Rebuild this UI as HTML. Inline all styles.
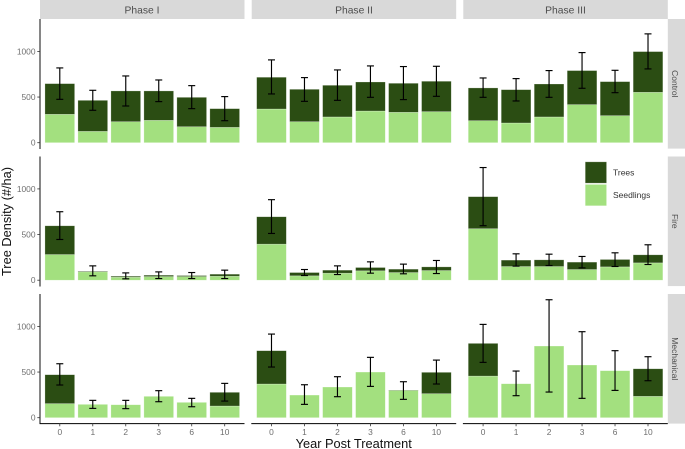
<!DOCTYPE html>
<html lang="en">
<head>
<meta charset="utf-8">
<title>Tree Density by Phase and Treatment</title>
<style>
html,body{margin:0;padding:0;background:#fff;}
body{width:685px;height:449px;overflow:hidden;}
svg{display:block;font-family:"Liberation Sans",sans-serif;}
</style>
</head>
<body>
<svg id="chart" xmlns="http://www.w3.org/2000/svg" width="685" height="449" viewBox="0 0 685 449">
  <rect x="0" y="0" width="685" height="449" fill="#fff"/>

  <g>
    <rect x="40" y="0" width="204.5" height="19" fill="#d9d9d9"/>
    <rect x="251.7" y="0" width="204.5" height="19" fill="#d9d9d9"/>
    <rect x="463.3" y="0" width="204.5" height="19" fill="#d9d9d9"/>
    <text x="142" y="13.3" text-anchor="middle" font-size="10.3" fill="#4d4d4d">Phase I</text>
    <text x="354" y="13.3" text-anchor="middle" font-size="10.3" fill="#4d4d4d">Phase II</text>
    <text x="565.5" y="13.3" text-anchor="middle" font-size="10.3" fill="#4d4d4d">Phase III</text>
  </g>

  <g>
    <rect x="667.8" y="19" width="17.2" height="129.6" fill="#d9d9d9"/>
    <rect x="667.8" y="156.5" width="17.2" height="129.6" fill="#d9d9d9"/>
    <rect x="667.8" y="294" width="17.2" height="129.6" fill="#d9d9d9"/>
    <text transform="translate(672.2,83.8) rotate(90)" text-anchor="middle" font-size="8.5" fill="#4d4d4d">Control</text>
    <text transform="translate(672.2,221.3) rotate(90)" text-anchor="middle" font-size="8.5" fill="#4d4d4d">Fire</text>
    <text transform="translate(672.2,358.8) rotate(90)" text-anchor="middle" font-size="8.5" fill="#4d4d4d">Mechanical</text>
  </g>

  <g id="plot-layer"></g>

  <g>
    <rect x="585.2" y="161.8" width="21.4" height="21.4" fill="#2b4d13" stroke="#fff" stroke-opacity="0.45" stroke-width="0.7"/>
    <rect x="585.2" y="184.4" width="21.4" height="21.4" fill="#a3e07f" stroke="#fff" stroke-opacity="0.45" stroke-width="0.7"/>
    <text x="613" y="175.3" font-size="8.5" fill="#333">Trees</text>
    <text x="613" y="198" font-size="8.5" fill="#333">Seedlings</text>
  </g>

  <text transform="translate(10.8,221.5) rotate(-90)" text-anchor="middle" font-size="12.8" fill="#111">Tree Density (#/ha)</text>
  <text x="353.7" y="447.8" text-anchor="middle" font-size="12.8" fill="#111">Year Post Treatment</text>
</svg>

<script>
// Categories and labels
const years = ['0', '1', '2', '3', '6', '10'];
const yTicks = [0, 500, 1000];
const phases = ['phase-1', 'phase-2', 'phase-3'];
const treatments = ['control', 'fire', 'mechanical'];

// Seedling density: [treatment][phase][year]
const seedlings = [
  [[311, 124, 230, 245, 175, 168], [369, 230, 282, 347, 333, 340], [241, 216, 282, 417, 296, 552]],
  [[281, 92, 33, 40, 40, 44], [395, 48, 77, 103, 84, 106], [564, 150, 150, 117, 146, 190]],
  [[154, 146, 142, 234, 168, 128], [369, 248, 336, 500, 299, 263], [456, 372, 785, 577, 515, 234]]
];

// Tree density stacked above seedlings: [treatment][phase][year]
const trees = [
  [[336, 340, 337, 322, 322, 205], [348, 355, 347, 318, 318, 333], [359, 365, 361, 373, 373, 446]],
  [[315, 7, 11, 15, 11, 22], [300, 36, 33, 36, 37, 40], [351, 70, 73, 81, 81, 88]],
  [[317, 0, 0, 0, 0, 150], [365, 0, 0, 0, 4, 234], [358, 0, 0, 0, 0, 302]]
];

// Error bar lower limits: [treatment][phase][year]
const errorLow = [
  [[475, 355, 402, 450, 373, 241], [534, 453, 464, 497, 472, 508], [497, 457, 497, 596, 548, 808]],
  [[446, 48, 15, 18, 18, 18], [512, 51, 62, 77, 70, 73], [597, 154, 161, 135, 150, 172]],
  [[358, 102, 99, 175, 120, 182], [555, 146, 230, 343, 201, 369], [606, 241, 281, 212, 299, 405]]
];

// Error bar upper limits: [treatment][phase][year]
const errorHigh = [
  [[819, 574, 731, 687, 625, 505], [907, 713, 797, 841, 834, 837], [709, 702, 790, 987, 793, 1192]],
  [[750, 157, 80, 91, 84, 110], [882, 117, 157, 201, 176, 216], [1234, 289, 285, 260, 300, 388]],
  [[591, 190, 190, 296, 212, 376], [916, 361, 449, 661, 394, 631], [1022, 511, 1292, 942, 734, 668]]
];

const SVG_NS = 'http://www.w3.org/2000/svg';
const layer = document.getElementById('plot-layer');
const panelLeft = [40, 251.7, 463.3];
const panelTop = [19, 156.5, 294];
const panelWidth = 204.5;
const panelHeight = 129.6;
const zeroOffset = 123.7;
const unitsToPx = 0.0913;
const bandStep = panelWidth / 6.2;
const barWidth = bandStep * 0.9;
const capHalf = 3.5;
const darkGreen = '#2b4d13';
const lightGreen = '#a3e07f';

function xScale(col, yearIndex) {
  return panelLeft[col] + bandStep * (0.6 + yearIndex);
}

function yScale(row, value) {
  return panelTop[row] + zeroOffset - value * unitsToPx;
}

function make(tag, attrs, parent) {
  const el = document.createElementNS(SVG_NS, tag);
  Object.keys(attrs).forEach(function (k) { el.setAttribute(k, attrs[k]); });
  parent.appendChild(el);
  return el;
}

function drawBar(parent, col, row, i, base, height, color) {
  return make('rect', {
    x: xScale(col, i) - barWidth / 2,
    y: yScale(row, base + height),
    width: barWidth,
    height: height * unitsToPx,
    fill: color,
    stroke: '#fff',
    'stroke-opacity': 0.4,
    'stroke-width': 0.6
  }, parent);
}

function drawLine(parent, x1, y1, x2, y2, color, width) {
  return make('line', { x1: x1, y1: y1, x2: x2, y2: y2, stroke: color, 'stroke-width': width }, parent);
}

treatments.forEach(function (treatment, row) {
  phases.forEach(function (phase, col) {
    const panel = make('g', {}, layer);
    
    

    years.forEach(function (year, i) {
      const seedlingBar = drawBar(panel, col, row, i, 0, seedlings[row][col][i], lightGreen);
      
      

      if (trees[row][col][i] > 0) {
        const treeBar = drawBar(panel, col, row, i, seedlings[row][col][i], trees[row][col][i], darkGreen);
        
        
      }
    });

    years.forEach(function (year, i) {
      const cx = xScale(col, i);
      const yLow = yScale(row, errorLow[row][col][i]);
      const yHigh = yScale(row, errorHigh[row][col][i]);
      const err = make('g', { stroke: '#000', fill: 'none' }, panel);
      
      
      drawLine(err, cx, yLow, cx, yHigh, '#000', 1.15);
      drawLine(err, cx - capHalf, yLow, cx + capHalf, yLow, '#000', 1.15);
      drawLine(err, cx - capHalf, yHigh, cx + capHalf, yHigh, '#000', 1.15);
    });

    if (col === 0) {
      const yAxis = make('g', {}, panel);
      
      
      drawLine(yAxis, panelLeft[col], panelTop[row], panelLeft[col], panelTop[row] + panelHeight + 0.4, '#000', 0.95);
      yTicks.forEach(function (tick) {
        const ty = yScale(row, tick);
        const tickMark = drawLine(yAxis, panelLeft[col] - 2.7, ty, panelLeft[col], ty, '#333', 0.8);
        
        
        const label = make('text', { x: panelLeft[col] - 4.5, y: ty + 3, 'text-anchor': 'end', 'font-size': 8.4, fill: '#6e6e6e' }, yAxis);
        label.textContent = String(tick);
        
        
      });
    }

    if (row === treatments.length - 1) {
      const xAxis = make('g', {}, panel);
      
      
      const baseY = panelTop[row] + panelHeight;
      drawLine(xAxis, panelLeft[col] - 0.4, baseY, panelLeft[col] + panelWidth, baseY, '#000', 0.95);
      years.forEach(function (year, i) {
        const tx = xScale(col, i);
        const tickMark = drawLine(xAxis, tx, baseY, tx, baseY + 2.7, '#333', 0.8);
        
        
        const label = make('text', { x: tx, y: baseY + 11.5, 'text-anchor': 'middle', 'font-size': 8.4, fill: '#6e6e6e' }, xAxis);
        label.textContent = year;
        
        
      });
    }
  });
});
</script>
</body>
</html>
